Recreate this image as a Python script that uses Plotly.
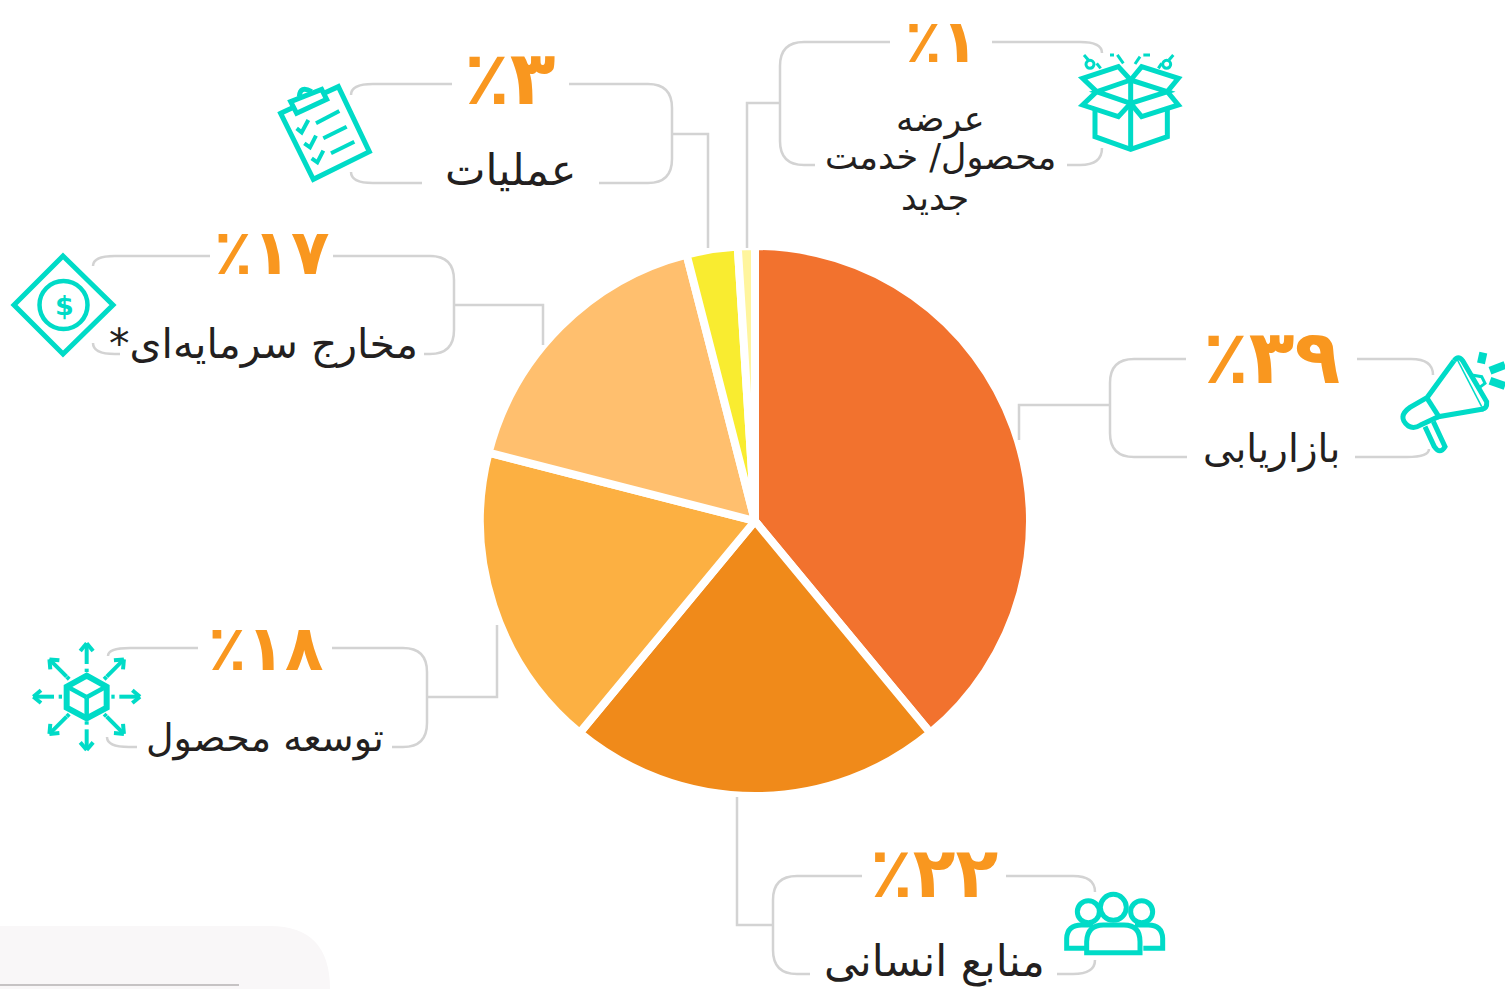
import math
import plotly.graph_objects as go

W, H = 1505, 989
categories = ["بازاریابی", "منابع انسانی", "توسعه محصول", "مخارج سرمایه‌ای*", "عملیات", "عرضه محصول/ خدمت جدید"]
values = [39, 22, 18, 17, 3, 1]
percent_labels = ["٪۳۹", "٪۲۲", "٪۱۸", "٪۱۷", "٪۳", "٪۱"]
slice_colors = ["#F2722E", "#F08A1A", "#FCB042", "#FFBF6E", "#F9EC30", "#FFF59D"]
label_lines = [["بازاریابی"], ["منابع انسانی"], ["توسعه محصول"], ["مخارج سرمایه‌ای*\u200f"], ["عملیات"],
               ["عرضه", "محصول/ خدمت", "جدید"]]
pct_pos = [(1271, 357), (934, 873), (265, 648), (271, 252), (510, 78), (941, 41)]
pct_size = [75, 70, 63, 63, 75, 60]
label_pos = [[(1271, 449)], [(934, 961)], [(265, 738)], [(263, 344)], [(510, 170)],
             [(940, 119), (940, 158), (935, 198)]]
label_size = [39, 43, 38, 41, 43, 35]

GREY, TEAL, ORANGE, INK = "#D3D3D3", "#00DBC7", "#F9971F", "#231F20"
shapes = []

def X(x): return f"{x / W:.5f}"
def Y(y): return f"{1 - y / H:.5f}"

def path(*segs):
    out = []
    for s in segs:
        if s == "Z":
            out.append("Z")
            continue
        cmd, *pts = s
        out.append(cmd + " ".join(f"{X(a)},{Y(b)}" for a, b in pts))
    return " ".join(out)

def add(d, color=GREY, width=2.5, fill=None):
    shapes.append(dict(type="path", xref="paper", yref="paper", path=d,
                       line=dict(color=color, width=width),
                       fillcolor=fill if fill else "rgba(0,0,0,0)"))

def poly(pts, closed=False, **kw):
    segs = [("M", pts[0])] + [("L", p) for p in pts[1:]]
    if closed:
        segs.append("Z")
    add(path(*segs), **kw)

def circle(cx, cy, r, **kw):
    k = 0.5523 * r
    add(path(("M", (cx + r, cy)),
             ("C", (cx + r, cy + k), (cx + k, cy + r), (cx, cy + r)),
             ("C", (cx - k, cy + r), (cx - r, cy + k), (cx - r, cy)),
             ("C", (cx - r, cy - k), (cx - k, cy - r), (cx, cy - r)),
             ("C", (cx + k, cy - r), (cx + r, cy - k), (cx + r, cy)), "Z"), **kw)

def bracket(side_x, end_x, y0, y1, r=24):
    s = 1 if end_x[0] > side_x else -1
    add(path(("M", (end_x[0], y0)), ("L", (side_x + s * r, y0)),
             ("Q", (side_x, y0), (side_x, y0 + r)), ("L", (side_x, y1 - r)),
             ("Q", (side_x, y1), (side_x + s * r, y1)), ("L", (end_x[1], y1))))

def open_arc(x_start, y_line, x_end, y_end):
    add(path(("M", (x_start, y_line)), ("L", (x_end - 22 if x_end > x_start else x_end + 22, y_line)),
             ("Q", (x_end, y_line), (x_end, y_end))))

# --- connector frames ---
bracket(1110, (1186, 1187), 359, 457); open_arc(1357, 359, 1433, 375); open_arc(1355, 457, 1429, 449)
poly([(1110, 405), (1019, 405), (1019, 440)])
bracket(773, (862, 810), 876, 974); open_arc(1006, 876, 1095, 892); open_arc(1057, 974, 1095, 960)
poly([(773, 925), (737, 925), (737, 797)])
bracket(427, (332, 392), 648, 747); open_arc(198, 648, 108, 656); open_arc(137, 747, 107, 737)
poly([(427, 697), (497, 697), (497, 625)])
bracket(454, (333, 424), 256, 354); open_arc(210, 256, 93, 266); open_arc(120, 354, 93, 343)
poly([(454, 305), (543, 305), (543, 345)])
bracket(672, (569, 599), 84, 183); open_arc(452, 84, 351, 95); open_arc(422, 183, 351, 172)
poly([(672, 134), (708, 134), (708, 248)])
bracket(780, (890, 815), 42, 165); open_arc(992, 42, 1102, 53); open_arc(1067, 165, 1102, 148)
poly([(780, 103), (747, 103), (747, 248)])

# --- icons ---
def z(ox, oy, pts): return [(ox + a / 3, oy + b / 3) for a, b in pts]
T = dict(color=TEAL)

box = lambda p: z(760, 0, p)
for seg in [[(1005, 330), (1005, 410), (1112, 448), (1222, 410), (1222, 330)],
            [(1112, 240), (1112, 448)],
            [(1112, 240), (1075, 200), (968, 235), (1010, 275)],
            [(1112, 240), (1145, 200), (1255, 235), (1222, 275)],
            [(1010, 275), (968, 315), (1075, 350), (1112, 310)],
            [(1222, 275), (1255, 315), (1145, 350), (1112, 310)]]:
    poly(box(seg), width=5, **T)
poly(box([(1112, 240), (1010, 275), (1112, 310), (1222, 275)]), closed=True, width=5, **T)
for cx, cy in [(990, 193), (1220, 193)]:
    a = box([(cx, cy)])[0]
    circle(a[0], a[1], 4, width=3, **T)
for seg in [[(972, 165), (985, 180)], [(1240, 165), (1227, 180)], [(1050, 165), (1062, 165)], [(1072, 165), (1090, 190)],
            [(1170, 165), (1150, 165)], [(1140, 170), (1125, 192)], [(1010, 190), (1022, 205)], [(1205, 190), (1195, 205)]]:
    poly(box(seg), width=3, **T)

meg = lambda p: z(1190, 310, p)
add(path(("M", meg([(792, 152)])[0]), ("L", meg([(712, 262)])[0]), ("L", meg([(660, 292)])[0]),
         ("Q", meg([(620, 320)])[0], meg([(655, 348)])[0]), ("Q", meg([(672, 358)])[0], meg([(692, 345)])[0]),
         ("L", meg([(745, 320)])[0]), ("L", meg([(880, 297)])[0])), width=5, **T)
add(path(("M", meg([(792, 152)])[0]), ("Q", meg([(805, 135)])[0], meg([(818, 152)])[0]),
         ("L", meg([(890, 275)])[0]), ("Q", meg([(892, 297)])[0], meg([(875, 297)])[0])), width=5, **T)
poly(meg([(712, 266), (750, 325)]), width=5, **T)
poly(meg([(800, 145), (875, 290)]), width=1.5, **T)
poly(meg([(845, 195), (875, 200), (885, 220), (865, 235)]), width=3, **T)
add(path(("M", meg([(705, 350)])[0]), ("L", meg([(733, 410)])[0]), ("Q", meg([(750, 435)])[0], meg([(765, 410)])[0]),
         ("L", meg([(730, 335)])[0])), width=5, **T)
for seg in [[(880, 128), (873, 160)], [(900, 182), (945, 165)], [(900, 212), (945, 228)]]:
    poly(meg(seg), width=8, **T)

clip = lambda p: z(260, 30, p)
poly(clip([(62, 250), (235, 170), (328, 365), (160, 448)]), closed=True, width=5, **T)
poly(clip([(92, 215), (185, 178), (200, 208), (110, 250)]), closed=True, width=5, fill="#FFFFFF", **T)
add(path(("M", clip([(118, 200)])[0]), ("Q", clip([(120, 165)])[0], clip([(155, 185)])[0])), width=5, **T)
for seg in [[(168, 280), (238, 243)], [(190, 325), (260, 290)], [(213, 370), (283, 335)],
            [(110, 295), (125, 307), (145, 270)], [(133, 340), (150, 352), (168, 317)], [(155, 385), (172, 397), (190, 362)]]:
    poly(clip(seg), width=4, **T)

poly([(63, 256), (113, 305), (63, 354), (14, 305)], closed=True, width=5, **T)
circle(63.5, 305, 24, width=4.5, **T)

cube = lambda p: z(0, 610, p)
poly(cube([(260, 197), (320, 230), (320, 293), (260, 325), (200, 293), (200, 230)]), closed=True, width=6, **T)
for seg in [[(260, 262), (260, 325)], [(260, 262), (205, 232)], [(260, 262), (315, 232)]]:
    poly(cube(seg), width=4.5, **T)
for i in range(8):
    a = math.radians(i * 45)
    ux, uy = math.cos(a), math.sin(a)
    far = 160 if i % 2 == 0 else 158
    tip = (260 + far * ux, 260 + far * uy)
    start = (260 + (98 if i % 2 == 0 else 85) * ux, 260 + (98 if i % 2 == 0 else 85) * uy)
    poly(cube([start, tip]), width=4, **T)
    for sgn in (1, -1):
        b = a + sgn * math.radians(140)
        poly(cube([tip, (tip[0] + 30 * math.cos(b), tip[1] + 30 * math.sin(b))]), width=4, **T)
    poly(cube([(260 + 74 * ux, 260 + 74 * uy), (260 + 84 * ux, 260 + 84 * uy)]), width=4, **T)

ppl = lambda p: z(730, 800, p)
for x in (1075, 1235):
    c = ppl([(x, 335)])[0]
    circle(c[0], c[1], 11, width=5, **T)
add(path(("M", ppl([(1065, 445)])[0]), ("L", ppl([(1010, 445)])[0]), ("L", ppl([(1010, 415)])[0]),
         ("Q", ppl([(1012, 375)])[0], ppl([(1055, 375)])[0]), ("L", ppl([(1090, 375)])[0])), width=5, **T)
add(path(("M", ppl([(1240, 445)])[0]), ("L", ppl([(1298, 445)])[0]), ("L", ppl([(1298, 415)])[0]),
         ("Q", ppl([(1296, 375)])[0], ppl([(1255, 375)])[0]), ("L", ppl([(1215, 375)])[0])), width=5, **T)
add(path(("M", ppl([(1070, 458)])[0]), ("L", ppl([(1070, 425)])[0]), ("Q", ppl([(1072, 375)])[0], ppl([(1120, 375)])[0]),
         ("L", ppl([(1182, 375)])[0]), ("Q", ppl([(1230, 375)])[0], ppl([(1230, 425)])[0]), ("L", ppl([(1230, 458)])[0]), "Z"),
    width=5, fill="#FFFFFF", **T)
c = ppl([(1150, 322)])[0]
circle(c[0], c[1], 13, width=5, fill="#FFFFFF", **T)

add(path(("M", (0, 926)), ("L", (270, 926)), ("Q", (330, 926), (330, 989)), ("L", (0, 989)), "Z"),
    color="#F9F7F8", width=0, fill="#F9F7F8")
poly([(0, 985), (239, 985)], color="#B4B2B3", width=1.5)

FONT = "DejaVu Sans"
ann = []
def text(x, y, s, size, color, family=FONT):
    ann.append(dict(x=x / W, y=1 - y / H, xref="paper", yref="paper", text=s, showarrow=False,
                    xanchor="center", yanchor="middle", font=dict(family=family, size=size, color=color)))

for i, s in enumerate(percent_labels):
    text(pct_pos[i][0], pct_pos[i][1], f"<b>{s}</b>", pct_size[i], ORANGE)
    for line, pos in zip(label_lines[i], label_pos[i]):
        text(pos[0], pos[1], line, label_size[i], INK)
text(64, 305, "<b>$</b>", 27, TEAL)

R = 275
CX, CY = 755, 521
fig = go.Figure(go.Pie(
    labels=categories, values=values, sort=False, direction="clockwise", rotation=0,
    marker=dict(colors=slice_colors, line=dict(color="#FFFFFF", width=8)),
    textinfo="none", hoverinfo="label+percent", showlegend=False,
    domain=dict(x=[(CX - R) / W, (CX + R) / W], y=[1 - (CY + R) / H, 1 - (CY - R) / H]),
))
fig.update_layout(width=W, height=H, margin=dict(l=0, r=0, t=0, b=0), paper_bgcolor="#FFFFFF",
                  plot_bgcolor="#FFFFFF", shapes=shapes, annotations=ann, showlegend=False)
fig.write_html("out.html", config=dict(displayModeBar=False),
               post_script="document.body.style.margin='0';document.body.style.overflow='hidden';")
